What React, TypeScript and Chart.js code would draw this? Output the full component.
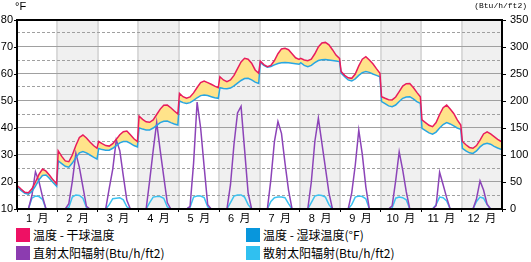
import React, { useEffect, useRef } from 'react';
import { Chart, registerables } from 'chart.js';

Chart.register(...registerables);

// ---- categories & tick labels ----
const monthLabels = ['1 月', '2 月', '3 月', '4 月', '5 月', '6 月', '7 月', '8 月', '9 月', '10 月', '11 月', '12 月'];
const tempTicks = [10, 15, 20, 25, 30, 35, 40, 45, 50, 55, 60, 65, 70, 75, 80];
const solarTicks = [0, 25, 50, 75, 100, 125, 150, 175, 200, 225, 250, 275, 300, 325, 350];

// ---- series: per month, 12 bi-hourly values ----
const dryBulb = [
  [18.5, 17.3, 16.2, 16.0, 17.5, 20.0, 22.8, 24.8, 24.0, 22.5, 20.8, 19.3],
  [31.5, 29.5, 27.8, 27.5, 30.0, 33.5, 36.5, 37.4, 36.3, 34.8, 33.5, 32.5],
  [35.0, 34.2, 33.5, 33.3, 34.2, 35.8, 37.5, 38.6, 38.9, 37.5, 36.0, 35.0],
  [44.4, 43.2, 42.3, 42.1, 43.0, 45.0, 47.0, 48.4, 48.5, 47.5, 46.3, 45.2],
  [52.8, 51.6, 51.0, 51.5, 53.0, 55.0, 56.8, 57.4, 56.8, 56.2, 55.5, 54.9],
  [59.0, 57.8, 57.2, 57.8, 59.5, 62.0, 64.5, 65.8, 65.5, 64.0, 61.5, 60.3],
  [64.8, 63.5, 62.7, 63.2, 65.0, 67.5, 69.3, 69.5, 69.0, 67.5, 66.0, 65.4],
  [65.8, 65.2, 64.9, 65.5, 67.5, 70.0, 71.5, 71.7, 70.8, 69.0, 67.0, 65.8],
  [60.9, 59.5, 58.6, 58.4, 60.0, 63.0, 65.5, 66.4, 65.2, 63.8, 62.0, 60.3],
  [51.6, 51.0, 50.5, 50.4, 51.5, 53.5, 55.5, 56.4, 56.5, 55.0, 53.2, 51.6],
  [43.0, 42.0, 41.0, 40.5, 42.0, 45.0, 47.5, 48.5, 47.0, 45.4, 43.0, 41.1],
  [35.0, 33.8, 32.8, 32.5, 33.5, 35.5, 37.8, 38.6, 37.8, 36.8, 35.8, 35.0],
];

const wetBulb = [
  [17.9, 16.8, 15.8, 15.5, 16.5, 18.5, 20.8, 22.4, 22.6, 21.3, 19.8, 18.4],
  [27.8, 26.8, 25.8, 25.5, 27.0, 29.0, 30.8, 31.3, 30.8, 30.0, 29.2, 28.5],
  [32.4, 32.0, 31.8, 31.8, 32.5, 33.5, 34.5, 35.0, 35.0, 34.3, 33.5, 33.0],
  [40.1, 39.6, 39.3, 39.3, 40.0, 41.0, 42.0, 42.5, 42.6, 42.0, 41.5, 41.1],
  [50.0, 49.4, 49.1, 49.4, 50.2, 51.2, 52.0, 52.2, 52.0, 51.6, 51.2, 51.0],
  [54.9, 54.6, 54.5, 54.8, 55.6, 56.6, 57.6, 58.3, 58.4, 57.8, 57.0, 56.5],
  [64.3, 63.2, 62.5, 62.8, 63.4, 63.9, 64.2, 64.3, 64.2, 64.0, 63.8, 63.6],
  [64.2, 63.2, 62.7, 63.2, 64.2, 65.0, 65.3, 65.4, 65.2, 65.0, 64.8, 64.6],
  [60.3, 59.0, 57.8, 57.4, 58.2, 59.5, 60.5, 60.9, 60.6, 60.0, 59.5, 59.0],
  [49.8, 49.0, 48.2, 47.9, 48.5, 49.8, 51.0, 51.5, 51.6, 50.8, 49.8, 49.1],
  [39.9, 39.0, 38.2, 37.7, 38.5, 40.0, 41.3, 42.0, 41.5, 40.8, 40.0, 39.5],
  [32.5, 31.5, 30.8, 30.6, 31.5, 33.0, 34.0, 34.3, 34.0, 33.2, 32.6, 32.1],
];

const directSolar = [
  [0, 0, 0, 0, 25, 69, 51, 23, 0, 0, 0, 0],
  [0, 0, 0, 10, 51, 103, 77, 41, 5, 0, 0, 0],
  [0, 0, 0, 38, 74, 128, 108, 61, 16, 0, 0, 0],
  [0, 0, 0, 52, 108, 160, 108, 60, 12, 0, 0, 0],
  [0, 0, 0, 5, 85, 198, 150, 78, 8, 0, 0, 0],
  [0, 0, 0, 45, 120, 178, 190, 110, 30, 0, 0, 0],
  [0, 0, 0, 55, 125, 162, 140, 85, 35, 0, 0, 0],
  [0, 0, 0, 50, 125, 168, 122, 76, 30, 0, 0, 0],
  [0, 0, 0, 30, 81, 146, 101, 41, 0, 0, 0, 0],
  [0, 0, 0, 6, 52, 106, 72, 32, 0, 0, 0, 0],
  [0, 0, 0, 0, 6, 68, 45, 21, 0, 0, 0, 0],
  [0, 0, 0, 0, 19, 52, 35, 9, 0, 0, 0, 0],
];

const diffuseSolar = [
  [0, 0, 0, 0, 20, 24, 23, 18, 0, 0, 0, 0],
  [0, 0, 0, 3, 22, 26, 25, 20, 3, 0, 0, 0],
  [0, 0, 0, 8, 19, 20, 21, 17, 4, 0, 0, 0],
  [0, 0, 0, 12, 22, 23, 23, 20, 4, 0, 0, 0],
  [0, 0, 0, 3, 22, 24, 24, 21, 4, 0, 0, 0],
  [0, 0, 0, 12, 24, 26, 26, 22, 8, 0, 0, 0],
  [0, 0, 0, 14, 21, 22, 22, 21, 10, 0, 0, 0],
  [0, 0, 0, 12, 24, 26, 25, 22, 8, 0, 0, 0],
  [0, 0, 0, 8, 22, 24, 23, 19, 0, 0, 0, 0],
  [0, 0, 0, 2, 20, 22, 21, 17, 0, 0, 0, 0],
  [0, 0, 0, 0, 8, 22, 21, 15, 0, 0, 0, 0],
  [0, 0, 0, 0, 14, 22, 20, 8, 0, 0, 0, 0],
];

const legendItems = [
  { text: '温度 - 干球温度', color: '#ee1164' },
  { text: '温度 - 湿球温度(°F)', color: '#0896dc' },
  { text: '直射太阳辐射(Btu/h/ft2)', color: '#8c3cb0' },
  { text: '散射太阳辐射(Btu/h/ft2)', color: '#30c0f0' },
];

const toPoints = (series: number[][]) =>
  series.flatMap((vals, m) =>
    vals.map((v, k) => ({ x: m + 0.02 + (k * 0.96) / (vals.length - 1), y: v }))
  );

const tickFont = { family: "'Liberation Sans', 'Noto Sans CJK SC', sans-serif", size: 11 };

const bgPlugin = {
  id: 'bgGrid',
  beforeDraw(chart: any) {
    const { ctx, chartArea: a, scales } = chart;
    const xs = scales.x;
    const ys = scales.y;
    ctx.save();
    monthLabels.forEach((_, m) => {
      if (m % 2 === 1) {
        const x0 = xs.getPixelForValue(m);
        const x1 = xs.getPixelForValue(m + 1);
        ctx.fillStyle = '#f0f0f0';
        ctx.fillRect(x0, a.top, x1 - x0, a.bottom - a.top);
      }
    });
    ctx.strokeStyle = '#dadada';
    ctx.lineWidth = 2;
    for (let m = 1; m < monthLabels.length; m++) {
      const px = Math.round(xs.getPixelForValue(m));
      ctx.beginPath();
      ctx.moveTo(px, a.top);
      ctx.lineTo(px, a.bottom);
      ctx.stroke();
    }
    ctx.lineWidth = 1;
    ctx.strokeStyle = '#a0a0a0';
    tempTicks.forEach((v) => {
      if (v === tempTicks[0] || v === tempTicks[tempTicks.length - 1]) return;
      const py = Math.round(ys.getPixelForValue(v)) - 0.5;
      ctx.setLineDash(v % 10 === 0 ? [] : [3, 2]);
      ctx.beginPath();
      ctx.moveTo(a.left, py);
      ctx.lineTo(a.right, py);
      ctx.stroke();
    });
    ctx.restore();
  },
  afterDraw(chart: any) {
    const { ctx, chartArea: a } = chart;
    ctx.save();
    ctx.strokeStyle = '#000';
    ctx.lineWidth = 2;
    ctx.strokeRect(a.left, a.top, a.right - a.left, a.bottom - a.top);
    ctx.restore();
  },
};

export default function App() {
  const canvasRef = useRef<HTMLCanvasElement | null>(null);

  useEffect(() => {
    if (!canvasRef.current) return;
    const chart = new Chart(canvasRef.current, {
      type: 'line',
      data: {
        datasets: [
          {
            label: legendItems[0].text,
            data: toPoints(dryBulb),
            borderColor: '#e81c5e',
            backgroundColor: '#ffe38a',
            borderWidth: 1.5,
            pointRadius: 0,
            fill: '+1',
            yAxisID: 'y',
          },
          {
            label: legendItems[1].text,
            data: toPoints(wetBulb),
            borderColor: '#28a6e2',
            borderWidth: 1.5,
            pointRadius: 0,
            fill: false,
            yAxisID: 'y',
          },
          {
            label: legendItems[2].text,
            data: toPoints(directSolar),
            borderColor: '#8c44b8',
            borderWidth: 1.5,
            pointRadius: 0,
            fill: false,
            yAxisID: 'y2',
          },
          {
            label: legendItems[3].text,
            data: toPoints(diffuseSolar),
            borderColor: '#3cc2f0',
            borderWidth: 1.5,
            pointRadius: 0,
            fill: false,
            yAxisID: 'y2',
          },
        ],
      },
      options: {
        responsive: false,
        maintainAspectRatio: false,
        animation: false,
        devicePixelRatio: 1,
        layout: { padding: { top: 20, left: 0, right: 0, bottom: 0 } },
        plugins: {
          legend: { display: false },
          tooltip: { enabled: false },
          filler: { drawTime: 'beforeDatasetsDraw' },
        },
        scales: {
          x: {
            type: 'linear',
            min: 0,
            max: monthLabels.length,
            afterFit: (s: any) => { s.height = 15; },
            afterBuildTicks: (s: any) => {
              s.ticks = Array.from({ length: monthLabels.length * 2 + 1 }, (_, i) => ({ value: i / 2 }));
            },
            border: { display: false },
            grid: {
              drawOnChartArea: false,
              drawTicks: true,
              tickLength: 3,
              tickWidth: 1,
              tickColor: (c: any) => (c.tick && Number.isInteger(c.tick.value) ? '#000' : 'rgba(0,0,0,0)'),
            },
            ticks: {
              autoSkip: false,
              maxRotation: 0,
              minRotation: 0,
              padding: 0,
              color: '#000',
              font: tickFont,
              callback: (v: any) => (Number.isInteger(v) ? '' : monthLabels[Math.floor(v)].replace(' ', '\u2002')),
            },
          },
          y: {
            type: 'linear',
            position: 'left',
            min: tempTicks[0],
            max: tempTicks[tempTicks.length - 1],
            afterFit: (s: any) => { s.width = 17; },
            afterBuildTicks: (s: any) => { s.ticks = tempTicks.map((v) => ({ value: v })); },
            border: { display: false },
            grid: { drawOnChartArea: false, drawTicks: true, tickLength: 3, tickColor: '#000', tickWidth: 1 },
            ticks: {
              padding: 1,
              color: '#000',
              font: tickFont,
              callback: (v: any) => (v % 10 === 0 ? String(v) : ''),
            },
          },
          y2: {
            type: 'linear',
            position: 'right',
            min: solarTicks[0],
            max: solarTicks[solarTicks.length - 1],
            afterFit: (s: any) => { s.width = 29; },
            afterBuildTicks: (s: any) => { s.ticks = solarTicks.map((v) => ({ value: v })); },
            border: { display: false },
            grid: { drawOnChartArea: false, drawTicks: true, tickLength: 4, tickColor: '#000', tickWidth: 1 },
            ticks: {
              padding: 4,
              color: '#000',
              font: tickFont,
              callback: (v: any) => (v % 50 === 0 ? String(v) : ''),
            },
          },
        },
      },
      plugins: [bgPlugin],
    } as any);
    return () => chart.destroy();
  }, []);

  const legendFont = "'Noto Sans CJK SC', sans-serif";
  const positions = [
    { left: 16, top: 228 },
    { left: 246, top: 228 },
    { left: 16, top: 246 },
    { left: 246, top: 246 },
  ];

  return (
    <div style={{ position: 'absolute', left: 0, top: 0, width: 531, height: 262, background: '#fff', overflow: 'hidden' }}>
      <canvas ref={canvasRef} width={531} height={224} style={{ display: 'block', width: 531, height: 224 }} />
      <div style={{ position: 'absolute', left: 15, top: 0, fontFamily: "'Liberation Sans', sans-serif", fontSize: 11, lineHeight: '12px', color: '#000' }}>°F</div>
      <div style={{ position: 'absolute', right: 4, top: 1, fontFamily: "'Liberation Mono', monospace", fontSize: 8, lineHeight: '10px', color: '#000' }}>(Btu/h/ft2)</div>
      {legendItems.map((it, i) => (
        <div key={i} style={{ position: 'absolute', left: positions[i].left, top: positions[i].top, display: 'flex', alignItems: 'center', height: 14 }}>
          <span style={{ display: 'inline-block', width: 14, height: 14, background: it.color }} />
          <span style={{ marginLeft: 3, fontFamily: legendFont, fontSize: 12, lineHeight: '14px', color: '#000', whiteSpace: 'nowrap' }}>{it.text}</span>
        </div>
      ))}
    </div>
  );
}
